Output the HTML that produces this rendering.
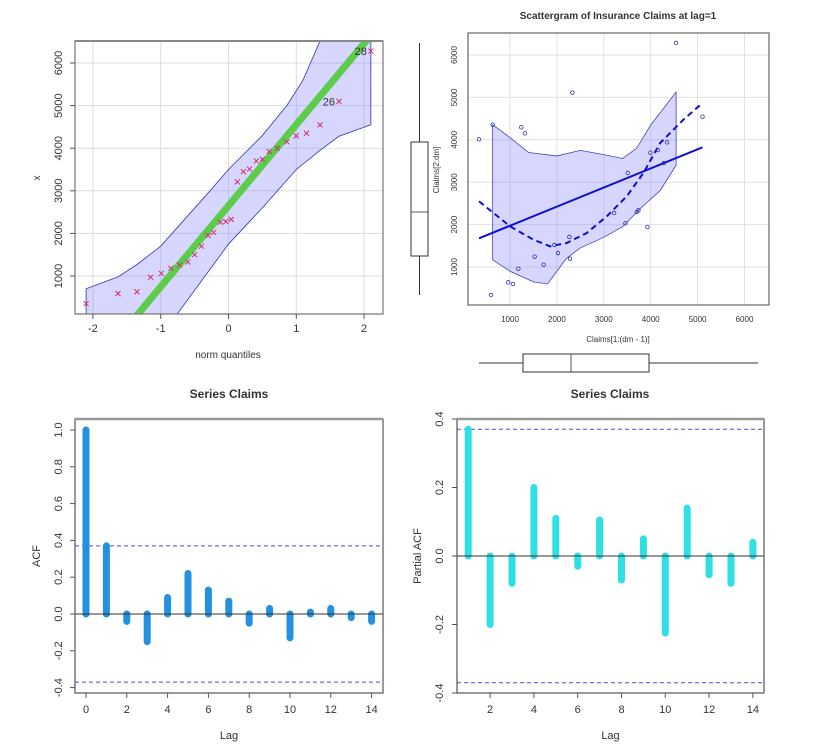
<!DOCTYPE html>
<html><head><meta charset="utf-8">
<style>
body{margin:0;background:#fff;}
svg{display:block;font-family:"Liberation Sans",Arial,sans-serif;}
text{fill:#333;}
</style></head>
<body>
<svg id="s" width="820" height="749" viewBox="0 0 820 749"></svg>
<script>
// ---- QQ plot data ----
const qqQuantiles=[-2.1,-1.63,-1.35,-1.15,-0.99,-0.85,-0.72,-0.6,-0.5,-0.4,-0.3,-0.22,-0.12,-0.04,0.04,0.13,0.22,0.31,0.41,0.5,0.6,0.72,0.86,1.0,1.15,1.35,1.63,2.1];
const qqValues=[350,590,630,970,1060,1180,1260,1330,1500,1700,1950,2020,2260,2280,2330,3210,3450,3510,3700,3740,3920,4000,4150,4290,4350,4550,5100,6280];
const qqBandUpperQ=[-2.1,-1.63,-1.35,-1,-0.3,0,0.5,0.86,1.1,1.35];
const qqBandUpperV=[700,980,1270,1700,2950,3500,4300,5000,5600,6520];
const qqBandLowerQ=[2.1,1.63,1.35,1,0.5,0,-0.76];
const qqBandLowerV=[4550,4280,3950,3500,2600,1750,100];
const qqLineIntercept=2650, qqLineSlope=1904;
const qqXTicks=[-2,-1,0,1,2];
const qqYTicks=[1000,2000,3000,4000,5000,6000];
// ---- scatter data ----
const scX=[339,630,1242,1320,2330,4542,5104,595,964,1064,1178,1526,1718,1946,2024,2266,2280,3219,3461,3511,3703,3738,3930,3994,4151,4350,4280];
const scY=[4011,4357,4294,4153,5112,6283,4546,340,638,599,961,1244,1055,1519,1330,1708,1197,2274,2030,3217,2297,2336,1943,3697,3759,3940,3450];
const regX=[339,5104], regY=[1676,3822];
const loessX=[339,1000,1498,1854,2209,2636,3063,3489,3845,4201,4699,5104];
const loessY=[2549,1960,1645,1487,1566,1802,2195,2667,3217,3924,4475,4868];
const bandUX=[630,1000,1400,2000,2500,3000,3400,3700,4000,4542];
const bandUY=[4357,4050,3700,3620,3750,3650,3560,3800,4350,5127];
const bandLX=[4542,4200,3800,3400,3000,2500,2200,2000,1800,1500,1000,630];
const bandLY=[3400,2800,2400,1950,1700,1450,1200,900,600,650,900,1170];
const scTicks=[1000,2000,3000,4000,5000,6000];
// ---- ACF / PACF ----
const acfLags=[0,1,2,3,4,5,6,7,8,9,10,11,12,13,14];
const acfVals=[1.0,0.37,-0.04,-0.15,0.09,0.22,0.13,0.07,-0.05,0.03,-0.13,0.01,0.03,-0.02,-0.04];
const acfYTicks=[-0.4,-0.2,0.0,0.2,0.4,0.6,0.8,1.0];
const acfXTicks=[0,2,4,6,8,10,12,14];
const pacfLags=[1,2,3,4,5,6,7,8,9,10,11,12,13,14];
const pacfVals=[0.37,-0.2,-0.08,0.2,0.11,-0.03,0.105,-0.07,0.05,-0.225,0.14,-0.055,-0.08,0.04];
const pacfYTicks=[-0.4,-0.2,0.0,0.2,0.4];
const pacfXTicks=[2,4,6,8,10,12,14];
const confLimit=0.37;

const NS="http://www.w3.org/2000/svg";
const svg=document.getElementById('s');
function el(tag,attrs,parent,txt){const e=document.createElementNS(NS,tag);for(const k in attrs)e.setAttribute(k,attrs[k]);if(txt!==undefined)e.textContent=txt;(parent||svg).appendChild(e);return e;}
function fmt(v){return v.toFixed(1);}

// ===== QQ =====
(function(){
const g=el('g',{});


const L=75,R=383,T=41,B=314;
const X=q=>228.5+q*67.8, Y=v=>276-(v-1000)*0.0426;
const cp=el('clipPath',{id:'cq'},g);el('rect',{x:L,y:T,width:R-L,height:B-T},cp);
const cg=el('g',{'clip-path':'url(#cq)'},g);
qqXTicks.forEach(t=>el('line',{x1:X(t),x2:X(t),y1:T,y2:B,stroke:'#ddd'},cg));
qqYTicks.forEach(t=>el('line',{x1:L,x2:R,y1:Y(t),y2:Y(t),stroke:'#ddd'},cg));
let pts=[[X(-2.1),B+5]];
qqBandUpperQ.forEach((q,i)=>pts.push([X(q),Y(qqBandUpperV[i])]));
pts.push([X(2.1),T-5]);
qqBandLowerQ.forEach((q,i)=>pts.push([X(q),Y(qqBandLowerV[i])]));
const band=el('polygon',{points:pts.map(p=>p.join(',')).join(' '),fill:'rgba(120,120,255,0.3)',stroke:'#3333bb','stroke-width':0.8},cg);


const q1=-2.5,q2=2.5;
const ln=el('line',{x1:X(q1),y1:Y(qqLineIntercept+qqLineSlope*q1),x2:X(q2),y2:Y(qqLineIntercept+qqLineSlope*q2),stroke:'#5ccc4a','stroke-width':7},cg);


qqQuantiles.forEach((q,i)=>{const x=X(q),y=Y(qqValues[i]);
 const p=el('path',{d:`M${x-2.5},${y-2.5}L${x+2.5},${y+2.5}M${x-2.5},${y+2.5}L${x+2.5},${y-2.5}`,stroke:'#d0306a','stroke-width':1},cg);
 
 });
el('text',{x:X(1.63)-4,y:Y(5100)+4,'font-size':11,'text-anchor':'end'},g,'26');
el('text',{x:X(2.1)-4,y:Y(6280)+4,'font-size':11,'text-anchor':'end'},g,'28');
el('path',{d:`M${L},${B}L${L},${T}L${R},${T}L${R},${B}Z`,fill:'none',stroke:'#777','stroke-width':1.2},g);
el('line',{x1:L,x2:R,y1:T,y2:T,stroke:'#888','stroke-width':2},g);
qqXTicks.forEach(t=>{el('line',{x1:X(t),x2:X(t),y1:B,y2:B+5,stroke:'#555'},g);el('text',{x:X(t),y:B+18,'font-size':11,'text-anchor':'middle'},g,String(t));});
qqYTicks.forEach(t=>{el('line',{x1:L-5,x2:L,y1:Y(t),y2:Y(t),stroke:'#555'},g);el('text',{x:0,y:0,'font-size':11,'text-anchor':'middle',transform:`translate(62,${Y(t)}) rotate(-90)`},g,String(t));});
el('text',{x:228,y:358,'font-size':10,'text-anchor':'middle'},g,'norm quantiles');
el('text',{x:0,y:0,'font-size':10,'text-anchor':'middle',transform:'translate(40,178) rotate(-90)'},g,'x');
})();

// ===== Scatter =====
(function(){
const g=el('g',{});


const L=468,R=769,T=33,B=305;
const X=v=>510+(v-1000)*0.0469, Y=v=>267-(v-1000)*0.0424;
el('text',{x:618,y:19,'font-size':10,'font-weight':'bold','text-anchor':'middle',fill:'#111'},g,'Scattergram of Insurance Claims at lag=1');
scTicks.forEach(t=>{el('line',{x1:X(t),x2:X(t),y1:T,y2:B,stroke:'#e2e2e2'},g);el('line',{x1:L,x2:R,y1:Y(t),y2:Y(t),stroke:'#e2e2e2'},g);});
let pts=[];bandUX.forEach((x,i)=>pts.push([X(x),Y(bandUY[i])]));bandLX.forEach((x,i)=>pts.push([X(x),Y(bandLY[i])]));
const band=el('polygon',{points:pts.map(p=>p.join(',')).join(' '),fill:'rgba(120,120,255,0.3)',stroke:'#4444bb','stroke-width':0.8},g);


const reg=el('line',{x1:X(regX[0]),y1:Y(regY[0]),x2:X(regX[1]),y2:Y(regY[1]),stroke:'#1010d0','stroke-width':2},g);


const lo=el('polyline',{points:loessX.map((x,i)=>X(x)+','+Y(loessY[i])).join(' '),fill:'none',stroke:'#1010d0','stroke-width':2,'stroke-dasharray':'6,4'},g);


scX.forEach((x,i)=>{const c=el('circle',{cx:X(x),cy:Y(scY[i]),r:1.8,fill:'none',stroke:'#3030b0','stroke-width':0.8},g);
 
 });
el('rect',{x:L,y:T,width:R-L,height:B-T,fill:'none',stroke:'#666','stroke-width':1.2},g);
scTicks.forEach(t=>{el('text',{x:X(t),y:B+17,'font-size':8,'text-anchor':'middle'},g,String(t));
 el('text',{x:0,y:0,'font-size':8,'text-anchor':'middle',transform:`translate(457,${Y(t)}) rotate(-90)`},g,String(t));});
el('text',{x:618,y:342,'font-size':8,'text-anchor':'middle'},g,'Claims[1:(dm - 1)]');
el('text',{x:0,y:0,'font-size':8,'text-anchor':'middle',transform:'translate(439,170) rotate(-90)'},g,'Claims[2:dm]');
const bl=el('g',{},g);


el('line',{x1:419.5,x2:419.5,y1:43,y2:295,stroke:'#333'},bl);
el('rect',{x:411,y:142,width:17,height:114,fill:'#fff',stroke:'#333'},bl);
el('line',{x1:411,x2:428,y1:212,y2:212,stroke:'#555'},bl);
const bb=el('g',{},g);


el('line',{x1:479,x2:758,y1:363,y2:363,stroke:'#333'},bb);
el('rect',{x:523,y:354,width:126,height:18,fill:'#fff',stroke:'#333'},bb);
el('line',{x1:571,x2:571,y1:354,y2:372,stroke:'#555'},bb);
})();

// ===== ACF-like panels =====
function corrPanel(name,lags,vals,yTicks,xTicks,L,R,T,B,X0,XS,Y0,YS,color,title,titleX,ylab,ylabX,tickX,heavyTop){
const g=el('g',{});


const X=l=>X0+l*XS, Y=v=>Y0-v*YS;
el('text',{x:titleX,y:398,'font-size':12,'font-weight':'bold','text-anchor':'middle',fill:'#111'},g,title);
[confLimit,-confLimit].forEach(c=>el('line',{x1:L,x2:R,y1:Y(c),y2:Y(c),stroke:'#4a4ad0','stroke-dasharray':'4,3','stroke-width':1},g));
lags.forEach((l,i)=>{const b=el('line',{x1:X(l),x2:X(l),y1:Y(0),y2:Y(vals[i]),stroke:color,'stroke-width':7,'stroke-linecap':'round'},g);
 
 });
el('line',{x1:L,x2:R,y1:Y(0),y2:Y(0),stroke:'#333'},g);
el('rect',{x:L,y:T,width:R-L,height:B-T,fill:'none',stroke:'#555','stroke-width':1.2},g);
if(heavyTop){el('line',{x1:L,x2:R,y1:T,y2:T,stroke:'#999','stroke-width':2.5},g);}
yTicks.forEach(t=>{el('line',{x1:L-5,x2:L,y1:Y(t),y2:Y(t),stroke:'#555'},g);
 el('text',{x:0,y:0,'font-size':11,'text-anchor':'middle',transform:`translate(${tickX},${Y(t)}) rotate(-90)`},g,fmt(t));});
xTicks.forEach(t=>{el('line',{x1:X(t),x2:X(t),y1:B,y2:B+5,stroke:'#555'},g);
 el('text',{x:X(t),y:B+20,'font-size':11,'text-anchor':'middle'},g,String(t));});
el('text',{x:(L+R)/2,y:739,'font-size':11,'text-anchor':'middle'},g,'Lag');
el('text',{x:0,y:0,'font-size':11,'text-anchor':'middle',transform:`translate(${ylabX},556) rotate(-90)`},g,ylab);
}
corrPanel('acf-plot',acfLags,acfVals,acfYTicks,acfXTicks,75,383,419,693,86,20.4,614,184,'#2390e0','Series  Claims',229,'ACF',40,62,true);
corrPanel('pacf-plot',pacfLags,pacfVals,pacfYTicks,pacfXTicks,457,764,419,693,446.3,21.9,556,342.5,'#2fdfe6','Series  Claims',610,'Partial ACF',421,443,true);
</script>
</body></html>
